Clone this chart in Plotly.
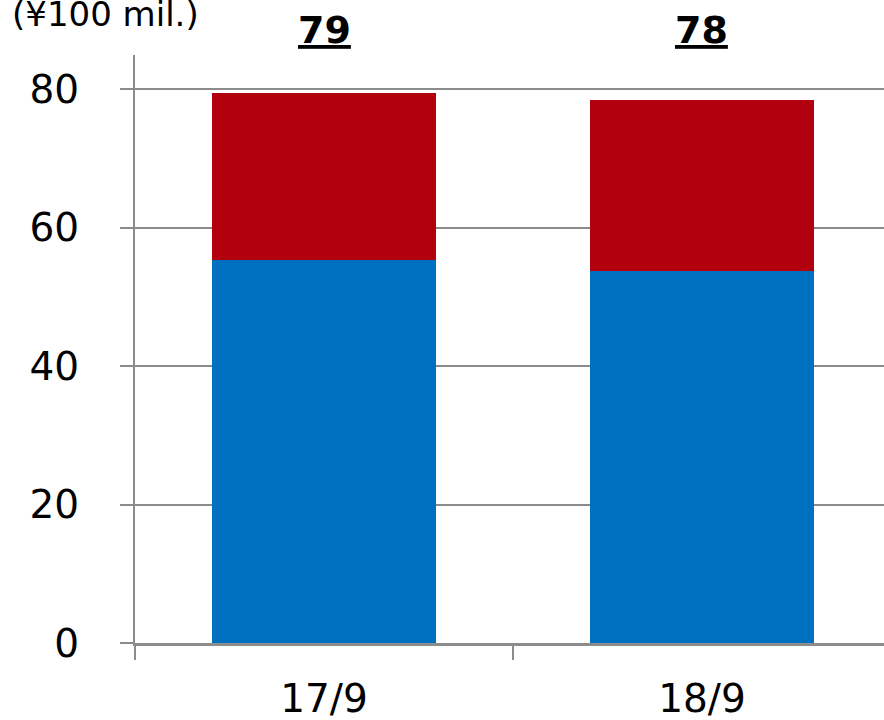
import plotly.graph_objects as go

# Period categories and stacked segment values (¥100 mil.)
periods = ["17/9", "18/9"]
lower_values = [55.3, 53.8]
upper_values = [24.1, 24.6]
totals = [a + b for a, b in zip(lower_values, upper_values)]
y_ticks = [0, 20, 40, 60, 80]

BLUE = "#0070C0"
RED = "#B2000F"
GRID = "#8C8C8C"
FONT = "DejaVu Sans"

fig = go.Figure()
fig.add_trace(go.Bar(x=periods, y=lower_values, marker=dict(color=BLUE, line=dict(width=0)),
                     width=0.5926, hoverinfo="skip"))
fig.add_trace(go.Bar(x=periods, y=upper_values, marker=dict(color=RED, line=dict(width=0)),
                     width=0.5926, hoverinfo="skip"))

# Bold underlined totals above each bar
for p, t in zip(periods, totals):
    fig.add_annotation(x=p, xref="x", y=1.0425, yref="paper",
                       text=f"<b><u>{round(t)}</u></b>", showarrow=False,
                       font=dict(family=FONT, size=38, color="black"),
                       xanchor="center", yanchor="middle")

# Unit caption
fig.add_annotation(x=-0.167, xref="paper", y=1.07, yref="paper",
                   text="(¥100 mil.)", showarrow=False,
                   font=dict(family=FONT, size=34, color="black"),
                   xanchor="left", yanchor="middle")

fig.update_layout(
    barmode="stack",
    width=884, height=720,
    margin=dict(l=135, r=0, t=55, b=77),
    plot_bgcolor="white", paper_bgcolor="white",
    showlegend=False,
    font=dict(family=FONT, color="black"),
    bargap=0,
)
fig.update_xaxes(
    type="category", range=[-0.5, 1.4815],
    tickson="boundaries", ticks="outside", ticklen=14, tickwidth=2, tickcolor=GRID,
    showline=True, linecolor=GRID, linewidth=3,
    showgrid=False, tickfont=dict(family=FONT, size=39),
    ticklabelstandoff=19,
)
fig.update_yaxes(
    range=[0, 84.96], tickvals=y_ticks,
    ticks="outside", ticklen=13, tickwidth=2, tickcolor=GRID,
    showline=True, linecolor=GRID, linewidth=2,
    showgrid=True, gridcolor=GRID, gridwidth=2, zeroline=False,
    tickfont=dict(family=FONT, size=39),
    ticklabelstandoff=33,
)

fig.write_html("out.html")
